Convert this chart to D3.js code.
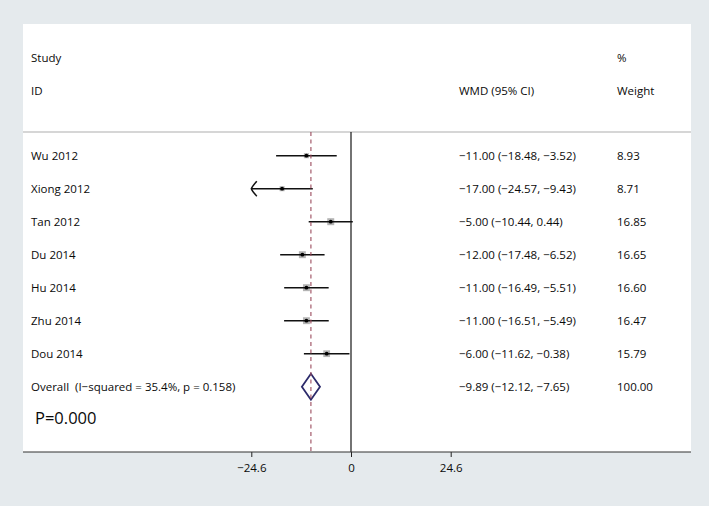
<!DOCTYPE html>
<html>
<head>
<meta charset="utf-8">
<script src="https://cdn.jsdelivr.net/npm/d3@7"></script>
<style>
  html, body { margin: 0; padding: 0; background: #e5eaed; }
  svg { display: block; }
  text { font-family: "Open Sans", "Noto Sans", sans-serif; fill: #0a0a0a; white-space: pre; }
</style>
</head>
<body>
<svg id="chart" width="709" height="506"></svg>
<script>
const studies = ["Wu 2012", "Xiong 2012", "Tan 2012", "Du 2014", "Hu 2014", "Zhu 2014", "Dou 2014"];
const estimates = [-11.00, -17.00, -5.00, -12.00, -11.00, -11.00, -6.00];
const lowerCI = [-18.48, -24.57, -10.44, -17.48, -16.49, -16.51, -11.62];
const upperCI = [-3.52, -9.43, 0.44, -6.52, -5.51, -5.49, -0.38];
const weights = [8.93, 8.71, 16.85, 16.65, 16.60, 16.47, 15.79];
const overallLabel = "Overall  (I\u2212squared = 35.4%, p = 0.158)";
const overallEst = [-9.89];
const overallLower = [-12.12];
const overallUpper = [-7.65];
const overallWeight = [100.00];
const xTicks = [-24.6, 0, 24.6];
const pText = "P=0.000";

const fmt = v => d3.format(".2f")(v).replace("-", "\u2212");
const ciText = (e, l, u) => `${fmt(e)} (${fmt(l)}, ${fmt(u)})`;

const svg = d3.select("#chart");
const W = 709, H = 506;
const panel = { left: 23, top: 24, right: 691, bottom: 452 };
const headerY = 132;

svg.append("rect").attr("width", W).attr("height", H).attr("fill", "#e5eaed");
svg.append("rect")
  .attr("x", panel.left).attr("y", panel.top)
  .attr("width", panel.right - panel.left).attr("height", panel.bottom - panel.top)
  .attr("fill", "#ffffff");

const x = d3.scaleLinear().domain([xTicks[0], xTicks[2]]).range([251.3, 450.7]);
const nRows = studies.length + 1;
const y = d3.scaleLinear().domain([0, nRows - 1]).range([155.7, 386.7]);

const fs = 11.5;
const colLabel = 31, colCI = 459, colW = 617;

// header
const hdr = svg.append("g").style("font-size", fs + "px");
hdr.append("text").attr("x", colLabel).attr("y", 58).attr("dy", "0.35em").text("Study");
hdr.append("text").attr("x", colLabel).attr("y", 91).attr("dy", "0.35em").text("ID");
hdr.append("text").attr("x", colCI).attr("y", 91).attr("dy", "0.35em").text("WMD (95% CI)");
hdr.append("text").attr("x", colW).attr("y", 58).attr("dy", "0.35em").text("%");
hdr.append("text").attr("x", colW).attr("y", 91).attr("dy", "0.35em").text("Weight");

svg.append("line")
  .attr("x1", panel.left).attr("x2", panel.right)
  .attr("y1", headerY).attr("y2", headerY)
  .attr("stroke", "#c9c9c9").attr("stroke-width", 1.5);

// zero line
svg.append("line")
  .attr("x1", x(0)).attr("x2", x(0))
  .attr("y1", headerY).attr("y2", panel.bottom)
  .attr("stroke", "#000").attr("stroke-width", 1.1);

// rows
const rows = studies.map((s, i) => ({ s, e: estimates[i], l: lowerCI[i], u: upperCI[i], w: weights[i], i }));
const g = svg.append("g");

// weight boxes
g.selectAll("rect.box").data(rows).join("rect")
  .attr("class", "box")
  .attr("x", d => x(d.e) - 0.85 * Math.sqrt(d.w))
  .attr("y", d => y(d.i) - 0.85 * Math.sqrt(d.w))
  .attr("width", d => 1.7 * Math.sqrt(d.w))
  .attr("height", d => 1.7 * Math.sqrt(d.w))
  .attr("fill", "#b4b4b4");

// CI lines
g.selectAll("line.ci").data(rows).join("line")
  .attr("class", "ci")
  .attr("x1", d => x(Math.max(d.l, x.domain()[0])))
  .attr("x2", d => x(Math.min(d.u, x.domain()[1])))
  .attr("y1", d => y(d.i)).attr("y2", d => y(d.i))
  .attr("stroke", "#111").attr("stroke-width", 1.6);

// arrows for CIs reaching axis limit
g.selectAll("path.arrow").data(rows.filter(d => d.l - x.domain()[0] < 0.1)).join("path")
  .attr("class", "arrow")
  .attr("d", d => {
    const tx = x(x.domain()[0]), ty = y(d.i);
    return `M${tx + 5.5},${ty - 7.5} Q${tx + 1},${ty - 2.5} ${tx},${ty} Q${tx + 1},${ty + 2.5} ${tx + 5.5},${ty + 7.5}`;
  })
  .attr("fill", "none").attr("stroke", "#111").attr("stroke-width", 1.5);

// point estimates
g.selectAll("circle.pt").data(rows).join("circle")
  .attr("class", "pt")
  .attr("cx", d => x(d.e)).attr("cy", d => y(d.i)).attr("r", 1.9)
  .attr("fill", "#000");

// overall diamond
const oy = y(nRows - 1);
svg.append("path")
  .attr("d", `M${x(overallLower[0])},${oy} L${x(overallEst[0])},${oy - 13} L${x(overallUpper[0])},${oy} L${x(overallEst[0])},${oy + 13} Z`)
  .attr("fill", "none").attr("stroke", "#2c2b6b").attr("stroke-width", 1.8);

// overall dashed line
svg.append("line")
  .attr("x1", x(overallEst[0])).attr("x2", x(overallEst[0]))
  .attr("y1", headerY).attr("y2", panel.bottom)
  .attr("stroke", "#9a4a5c").attr("stroke-width", 1.1)
  .attr("stroke-dasharray", "4,3.5");

// row texts
const t = svg.append("g").style("font-size", fs + "px");
t.selectAll("text.lab").data(rows).join("text")
  .attr("class", "lab").attr("x", colLabel).attr("y", d => y(d.i)).attr("dy", "0.35em").text(d => d.s);
t.selectAll("text.ci").data(rows).join("text")
  .attr("class", "ci").attr("x", colCI).attr("y", d => y(d.i)).attr("dy", "0.35em")
  .text(d => ciText(d.e, d.l, d.u));
t.selectAll("text.w").data(rows).join("text")
  .attr("class", "w").attr("x", colW).attr("y", d => y(d.i)).attr("dy", "0.35em")
  .text(d => d3.format(".2f")(d.w));
t.append("text").attr("x", colLabel).attr("y", oy).attr("dy", "0.35em").text(overallLabel);
t.append("text").attr("x", colCI).attr("y", oy).attr("dy", "0.35em")
  .text(ciText(overallEst[0], overallLower[0], overallUpper[0]));
t.append("text").attr("x", colW).attr("y", oy).attr("dy", "0.35em")
  .text(d3.format(".2f")(overallWeight[0]));

svg.append("text").attr("x", 35).attr("y", 418.5).attr("dy", "0.35em")
  .style("font-size", "16.5px").text(pText);

// x axis
const axis = d3.axisBottom(x).tickValues(xTicks).tickSize(5).tickSizeOuter(0)
  .tickFormat(d => (d === 0 ? "0" : d3.format(".1f")(d).replace("-", "\u2212")));
const ax = svg.append("g").attr("transform", `translate(0,${panel.bottom})`).call(axis);
ax.select(".domain").remove();
ax.selectAll(".tick line").attr("stroke", "#222");
ax.selectAll(".tick text").attr("y", 16).attr("dy", "0.35em")
  .style("font-size", fs + "px").style("font-family", "'Open Sans', sans-serif").attr("fill", "#111");
svg.append("line")
  .attr("x1", panel.left).attr("x2", panel.right)
  .attr("y1", panel.bottom).attr("y2", panel.bottom)
  .attr("stroke", "#333").attr("stroke-width", 1.2);
</script>
</body>
</html>
